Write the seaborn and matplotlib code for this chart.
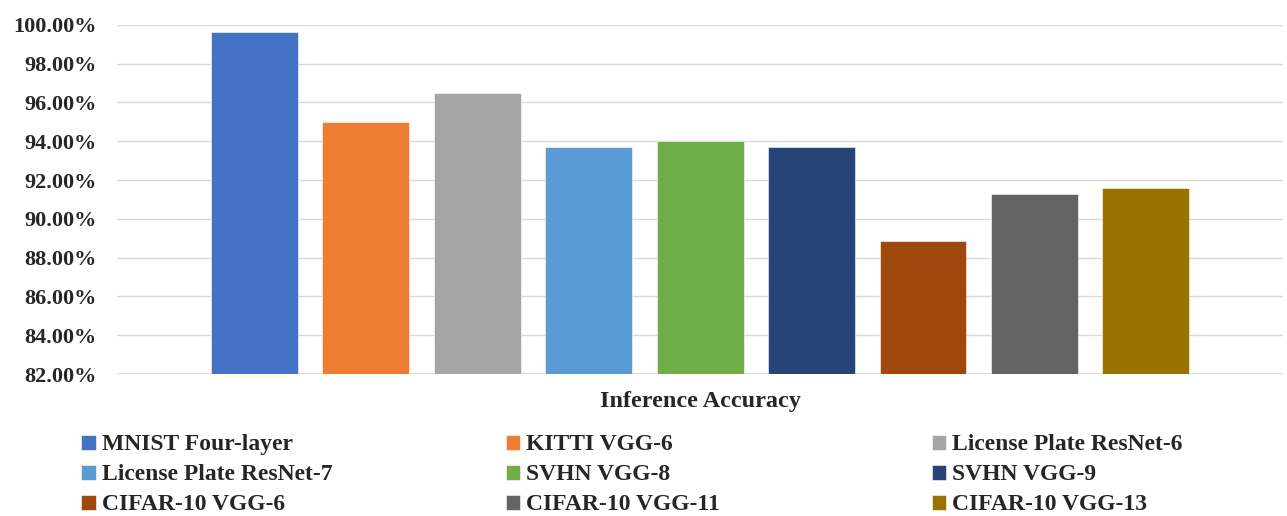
import matplotlib.pyplot as plt
import pandas as pd
import seaborn as sns
from matplotlib.ticker import FuncFormatter

# values (accuracy in %)
models = [
    "MNIST Four-layer",
    "KITTI VGG-6",
    "License Plate ResNet-6",
    "License Plate ResNet-7",
    "SVHN VGG-8",
    "SVHN VGG-9",
    "CIFAR-10 VGG-6",
    "CIFAR-10 VGG-11",
    "CIFAR-10 VGG-13",
]
accuracy = [99.65, 95.0, 96.47, 93.68, 94.02, 93.68, 88.87, 91.28, 91.58]
colors = [
    "#4472C4", "#ED7D31", "#A5A5A5", "#5B9BD5", "#70AD47",
    "#264478", "#9E480E", "#636363", "#997300",
]
category = "Inference Accuracy"

sns.set_style("white")
plt.rcParams["font.family"] = ["Liberation Serif", "DejaVu Serif"]
plt.rcParams["font.weight"] = "bold"

df = pd.DataFrame({"model": models, "accuracy": accuracy, "group": category})

fig = plt.figure(figsize=(12.87, 5.16), dpi=100)
ax = fig.add_axes([0.091, 0.275, 0.906, 0.677])

sns.barplot(
    data=df, x="group", y="accuracy", hue="model", hue_order=models,
    palette=colors, saturation=1, width=0.86, gap=0.22, errorbar=None,
    ax=ax, edgecolor="white", linewidth=0.4,
)

ax.set_ylim(82, 100)
ax.set_yticks(range(82, 101, 2))
ax.yaxis.set_major_formatter(FuncFormatter(lambda v, _: f"{v:.2f}%"))
ax.grid(axis="y", color="#D9D9D9", linewidth=1.0)
ax.set_axisbelow(True)
for side in ["top", "right", "left", "bottom"]:
    ax.spines[side].set_visible(False)
ax.axhline(82, color="#D9D9D9", linewidth=1.2, zorder=0)
ax.set_xlabel("")
ax.set_ylabel("")
ax.tick_params(axis="y", labelsize=16, length=0, pad=15)
ax.tick_params(axis="x", labelsize=17.5, length=0, pad=12)

handles, labels = ax.get_legend_handles_labels()
ax.get_legend().remove()

# three legend columns, laid out row by row like the original
col_x = [0.0633, 0.3928, 0.7238]
for c in range(3):
    idx = [c, c + 3, c + 6]
    fig.legend(
        [handles[i] for i in idx], [labels[i] for i in idx],
        loc="upper left", bbox_to_anchor=(col_x[c], 0.158),
        frameon=False, fontsize=17, handlelength=0.6, handleheight=0.6,
        handletextpad=0.25, labelspacing=0.38, borderaxespad=0, borderpad=0,
    )

fig.savefig("out.png", dpi=100)
